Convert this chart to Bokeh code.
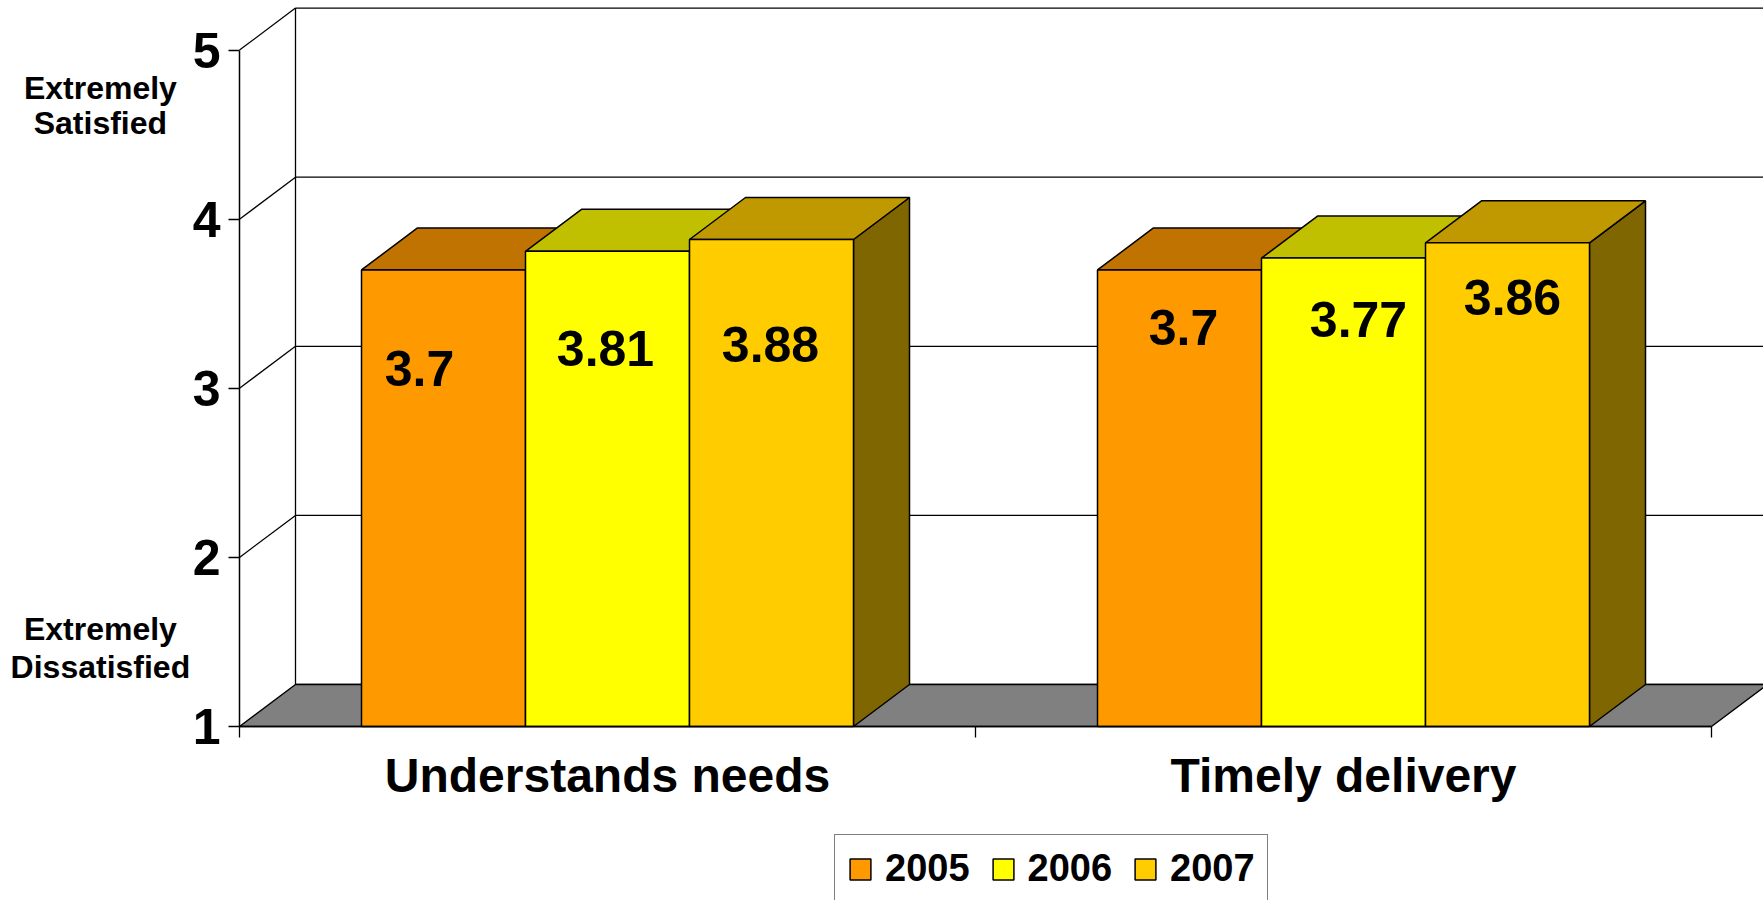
from bokeh.plotting import figure
from bokeh.models import (Range1d, FixedTicker, Legend, LegendItem, Label,
                          ColumnDataSource, LinearAxis)
from bokeh.embed import file_html
from bokeh.resources import INLINE
from bokeh.core.properties import value

# ---- data -------------------------------------------------------------
categories = ["Understands needs", "Timely delivery"]
years = ["2005", "2006", "2007"]
scores_2005 = [3.7, 3.7]
scores_2006 = [3.81, 3.77]
scores_2007 = [3.88, 3.86]
y_ticks = [1, 2, 3, 4, 5]
top_anchor = ["Extremely", "Satisfied"]
bottom_anchor = ["Extremely", "Dissatisfied"]

series = [scores_2005, scores_2006, scores_2007]

# ---- styles -----------------------------------------------------------
front_colors = ["#FF9900", "#FFFF00", "#FFCC00"]
top_colors = ["#C07300", "#C0C000", "#C09900"]
side_colors = ["#804C00", "#808000", "#806600"]
floor_color = "#808080"
FONT = "Liberation Sans"

# ---- layout (pixels) --------------------------------------------------
W, H = 1763, 900
AXIS_X_PX, AXIS_Y_PX = 239, 726      # where the front axes sit on the canvas
PX_PER_CAT = 736.0
PX_PER_VAL = 169.1
DEPTH_PX_X, DEPTH_PX_Y = 56.0, 42.0
BAR_PX = 164.0

n_cat = len(categories)
y_lo, y_hi = y_ticks[0], y_ticks[-1]

x_start = -AXIS_X_PX / PX_PER_CAT
x_end = (W - AXIS_X_PX) / PX_PER_CAT
y_start = y_lo - (H - AXIS_Y_PX) / PX_PER_VAL
y_end = y_lo + AXIS_Y_PX / PX_PER_VAL
dx = DEPTH_PX_X / PX_PER_CAT
dy = DEPTH_PX_Y / PX_PER_VAL
bw = BAR_PX / PX_PER_CAT

# label nudges (screen px) for the value labels, [series][category]
label_nudge_x = [[-24, 4], [-2, 15], [-1, 5]]
label_nudge_y = [[99, 58], [97, 61], [105, 55]]

p = figure(width=W, height=H,
           x_range=Range1d(x_start, x_end), y_range=Range1d(y_start, y_end),
           x_axis_location=None, y_axis_location=None,
           min_border=0, min_border_left=0, min_border_right=0,
           min_border_top=0, min_border_bottom=0,
           output_backend="svg", toolbar_location=None, tools="")
p.outline_line_color = None
p.grid.visible = False
p.background_fill_color = "white"
p.border_fill_color = "white"

# ---- walls and floor --------------------------------------------------
# back wall grid lines
p.segment(x0=[dx] * len(y_ticks), y0=[t + dy for t in y_ticks],
          x1=[x_end + 1] * len(y_ticks), y1=[t + dy for t in y_ticks],
          line_color="black", line_width=1.3)
# side wall diagonals
p.segment(x0=[0] * (len(y_ticks) - 1), y0=y_ticks[1:],
          x1=[dx] * (len(y_ticks) - 1), y1=[t + dy for t in y_ticks[1:]],
          line_color="black", line_width=1.3)
# back wall corner
p.segment(x0=[dx], y0=[y_lo + dy], x1=[dx], y1=[y_hi + dy],
          line_color="black", line_width=1.3)
# floor
p.patch(x=[0, n_cat, n_cat + dx, dx], y=[y_lo, y_lo, y_lo + dy, y_lo + dy],
        fill_color=floor_color, line_color="black", line_width=1.5)

# ---- 3D bars ----------------------------------------------------------
front_renderers = []
lab_x, lab_y, lab_t, lab_ox, lab_oy = [], [], [], [], []
for j, vals in enumerate(series):
    lefts, rights, tops = [], [], []
    top_xs, top_ys, side_xs, side_ys = [], [], [], []
    for i, v in enumerate(vals):
        c = i + 0.5
        l = c - 1.5 * bw + j * bw
        r = l + bw
        lefts.append(l)
        rights.append(r)
        tops.append(v)
        top_xs.append([l, r, r + dx, l + dx])
        top_ys.append([v, v, v + dy, v + dy])
        side_xs.append([r, r + dx, r + dx, r])
        side_ys.append([y_lo, y_lo + dy, v + dy, v])
        lab_x.append((l + r) / 2)
        lab_y.append(v)
        lab_t.append(f"{v:g}")
        lab_ox.append(label_nudge_x[j][i])
        lab_oy.append(label_nudge_y[j][i])
    p.patches(xs=side_xs, ys=side_ys, fill_color=side_colors[j],
              line_color="black", line_width=1.5)
    p.patches(xs=top_xs, ys=top_ys, fill_color=top_colors[j],
              line_color="black", line_width=1.5)
    fr = p.quad(left=lefts, right=rights, bottom=[y_lo] * len(vals), top=tops,
                fill_color=front_colors[j], line_color="black", line_width=1.5)
    front_renderers.append(fr)

lab_src = ColumnDataSource(dict(x=lab_x, y=lab_y, t=lab_t, ox=lab_ox, oy=lab_oy))
p.text(x="x", y="y", text="t", x_offset="ox", y_offset="oy", source=lab_src,
       text_font=value(FONT), text_font_style="bold", text_font_size="50px",
       text_color="black", text_align="center", text_baseline="middle")

# ---- axes (pinned to the front edges of the box) -----------------------
xa = LinearAxis(fixed_location=y_lo)
xa.ticker = FixedTicker(ticks=[i + 0.5 for i in range(n_cat)],
                        minor_ticks=list(range(n_cat + 1)))
xa.major_label_overrides = {i + 0.5: name for i, name in enumerate(categories)}
xa.bounds = (0, n_cat)
xa.axis_line_color = "black"
xa.axis_line_width = 1.5
xa.major_tick_line_color = None
xa.major_tick_in = 0
xa.major_tick_out = 0
xa.minor_tick_line_color = "black"
xa.minor_tick_line_width = 1.3
xa.minor_tick_in = 0
xa.minor_tick_out = 11
xa.major_label_text_font = FONT
xa.major_label_text_font_style = "bold"
xa.major_label_text_font_size = "48px"
xa.major_label_text_color = "black"
xa.major_label_standoff = 11
p.add_layout(xa, "below")

ya = LinearAxis(fixed_location=0)
ya.ticker = FixedTicker(ticks=y_ticks)
ya.bounds = (y_lo, y_hi)
ya.axis_line_color = "black"
ya.axis_line_width = 1.5
ya.major_tick_line_color = "black"
ya.major_tick_line_width = 1.3
ya.major_tick_in = 0
ya.major_tick_out = 11
ya.minor_tick_line_color = None
ya.major_label_text_font = FONT
ya.major_label_text_font_style = "bold"
ya.major_label_text_font_size = "50px"
ya.major_label_text_color = "black"
ya.major_label_standoff = 8
p.add_layout(ya, "left")

# ---- scale anchors ----------------------------------------------------
anchor_x = -0.189
for text, yv in zip(top_anchor, [4.773, 4.567]):
    p.add_layout(Label(x=anchor_x, y=yv, text=text,
                       text_font=FONT, text_font_style="bold",
                       text_font_size="32px", text_align="center",
                       text_baseline="alphabetic", text_color="black"))
for text, yv in zip(bottom_anchor, [1.576, 1.351]):
    p.add_layout(Label(x=anchor_x, y=yv, text=text,
                       text_font=FONT, text_font_style="bold",
                       text_font_size="32px", text_align="center",
                       text_baseline="alphabetic", text_color="black"))

# ---- legend -----------------------------------------------------------
legend = Legend(items=[LegendItem(label=years[j], renderers=[front_renderers[j]])
                       for j in range(len(years))],
                orientation="horizontal", location=(834, -3), margin=0,
                padding=12, spacing=20, label_standoff=12,
                glyph_width=26, glyph_height=26,
                label_text_font=FONT, label_text_font_style="bold",
                label_text_font_size="38px", label_text_color="black",
                border_line_color="black", border_line_width=1.5,
                background_fill_color="white", background_fill_alpha=1.0)
p.add_layout(legend)

open("out.html", "w").write(file_html(p, INLINE))
